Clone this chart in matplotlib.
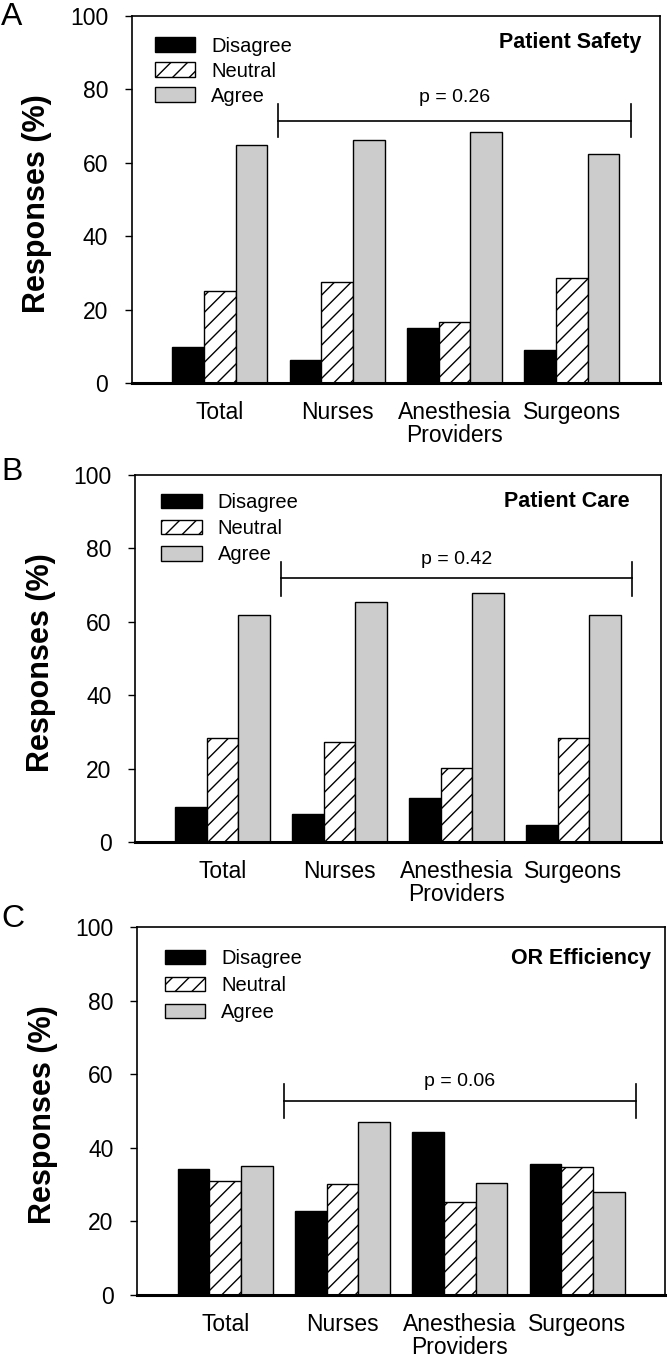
import matplotlib
matplotlib.use('Agg')
import matplotlib.pyplot as plt
from matplotlib.patches import Patch
import numpy as np

plt.rcParams['font.family'] = ['Liberation Sans', 'DejaVu Sans']
plt.rcParams['hatch.linewidth'] = 1.0

# ---------------- data ----------------
groups = ['Total', 'Nurses', 'Anesthesia\nProviders', 'Surgeons']
series = ['Disagree', 'Neutral', 'Agree']

safety_disagree = [9.8, 6.3, 15.1, 9.1]
safety_neutral = [25.2, 27.7, 16.7, 28.8]
safety_agree = [65.0, 66.2, 68.3, 62.4]

care_disagree = [9.7, 7.7, 12.0, 4.7]
care_neutral = [28.4, 27.2, 20.2, 28.4]
care_agree = [62.0, 65.3, 68.0, 62.0]

eff_disagree = [34.3, 22.9, 44.3, 35.7]
eff_neutral = [30.9, 30.3, 25.3, 34.8]
eff_agree = [35.0, 47.1, 30.5, 28.0]

titles = ['Patient Safety', 'Patient Care', 'OR Efficiency']
p_labels = ['p = 0.26', 'p = 0.42', 'p = 0.06']
panel_letters = ['A', 'B', 'C']
yticks = [0, 20, 40, 60, 80, 100]

panels = [
    (safety_disagree, safety_neutral, safety_agree),
    (care_disagree, care_neutral, care_agree),
    (eff_disagree, eff_neutral, eff_agree),
]

# ---------------- layout / style ----------------
W, H = 667, 1358
fig = plt.figure(figsize=(W / 100, H / 100), dpi=100)

# axes rectangles in pixels: left, top, right, bottom
rects_px = [
    (131.7, 16.0, 660.0, 383.3),
    (135.0, 475.0, 661.0, 842.3),
    (137.3, 927.3, 665.0, 1295.0),
]
# bracket: (bar y, tick top, tick bottom, text baseline)
brackets = [
    (71.3, 76.1, 67.1, 76.7),
    (71.9, 76.4, 67.0, 75.8),
    (52.7, 57.4, 48.2, 56.8),
]
title_pos = [(0.964, 0.912), (0.941, 0.914), (0.973, 0.899)]
legend_pos = [(0.044, 0.944), (0.05, 0.951), (0.052, 0.941)]
legend_spacing = [0.3, 0.36, 0.4]
letter_pos = [(1, 17), (1, 472), (1, 919)]

styles = [
    dict(facecolor='black', edgecolor='black', hatch=None),
    dict(facecolor='white', edgecolor='black', hatch='//'),
    dict(facecolor='#cccccc', edgecolor='black', hatch=None),
]

bw = 0.27
x = np.arange(len(groups))

for i, (vals, (l, t, r, b)) in enumerate(zip(panels, rects_px)):
    ax = fig.add_axes([l / W, 1 - b / H, (r - l) / W, (b - t) / H])
    for j, (v, st) in enumerate(zip(vals, styles)):
        ax.bar(x + (j - 1) * bw, v, width=bw, facecolor=st['facecolor'],
               edgecolor=st['edgecolor'], hatch=st['hatch'], linewidth=1.0,
               zorder=2)
    ax.set_xlim(-0.75, 3.75)
    ax.set_ylim(0, 100)
    ax.set_yticks(yticks)
    ax.set_yticklabels([str(v) for v in yticks], fontsize=16.5)
    ax.set_xticks(x)
    ax.set_xticklabels(groups, fontsize=16.5, linespacing=1.0)
    ax.tick_params(axis='x', length=0, pad=13)
    ax.tick_params(axis='y', direction='out', length=5, width=1.0, pad=12)
    for s in ['top', 'right', 'left']:
        ax.spines[s].set_linewidth(1.2)
    ax.spines['bottom'].set_linewidth(2.2)

    ax.set_ylabel('Responses (%)', fontsize=22, fontweight='bold')
    ax.yaxis.set_label_coords(-0.15, 0.49)

    ax.text(title_pos[i][0], title_pos[i][1], titles[i], transform=ax.transAxes,
            ha='right', va='baseline', fontsize=15.5, fontweight='bold')

    yb, yt, ybot, ytxt = brackets[i]
    ax.plot([0.5, 3.5], [yb, yb], color='black', lw=1.2, zorder=3)
    ax.plot([0.5, 0.5], [ybot, yt], color='black', lw=1.2, zorder=3)
    ax.plot([3.5, 3.5], [ybot, yt], color='black', lw=1.2, zorder=3)
    ax.text(2.0, ytxt, p_labels[i], ha='center', va='baseline', fontsize=14)

    handles = [Patch(facecolor=st['facecolor'], edgecolor='black',
                     hatch=st['hatch'], linewidth=1.0) for st in styles]
    ax.legend(handles, series, loc='upper left', bbox_to_anchor=legend_pos[i],
              frameon=False, fontsize=14.5, handlelength=2.0, handleheight=0.72,
              handletextpad=0.8, labelspacing=legend_spacing[i], borderpad=0,
              borderaxespad=0)

    fig.text(letter_pos[i][0] / W, 1 - letter_pos[i][1] / H, panel_letters[i],
             fontsize=23, ha='left', va='center')

fig.savefig('out.png', dpi=100)
